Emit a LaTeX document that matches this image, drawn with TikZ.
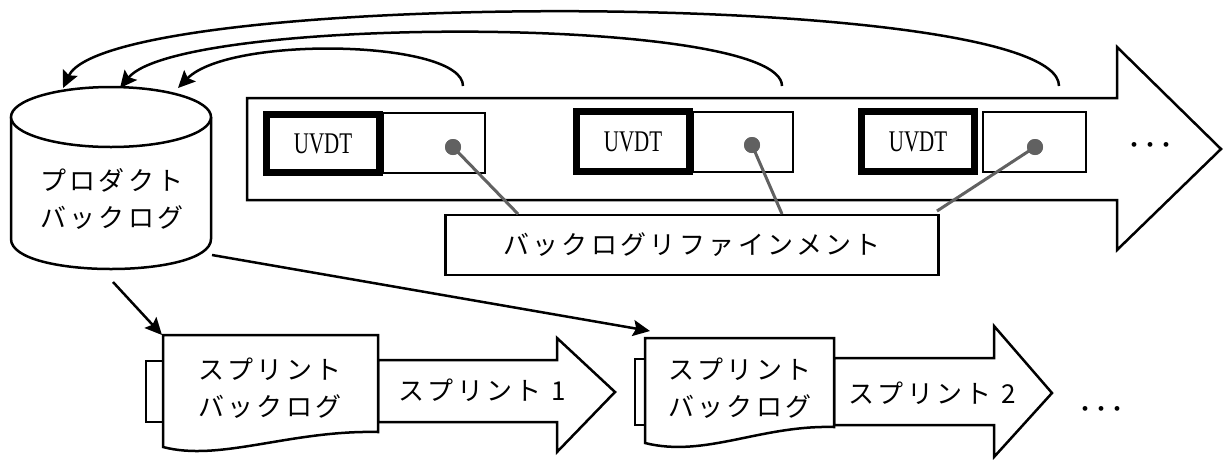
\documentclass[tikz,border=0pt]{standalone}
\usepackage{fontspec}
\usepackage{graphicx}
\usetikzlibrary{arrows.meta}
\newfontfamily\jp[LetterSpace=13]{Noto Sans CJK JP}
\newfontfamily\dotfont[LetterSpace=45]{Liberation Serif}
\newfontfamily\uvfont{Liberation Serif}
\newcommand{\uvdt}{\scalebox{0.7}[1]{UVDT}}
\tikzset{
  outline/.style={draw=black, line width=2.5pt, fill=white, line join=miter},
  thickbox/.style={draw=black, line width=7pt, fill=white, inner sep=0pt,
    font=\uvfont\fontsize{30}{32}\selectfont},
  plainbox/.style={draw=black, line width=2.5pt, fill=white, inner sep=0pt},
  feed/.style={-{Stealth[length=17pt,width=16pt,inset=3pt]}, line width=2.5pt},
  link/.style={draw=black!62, line width=3pt},
  jptext/.style={font=\jp\fontsize{26}{37}\selectfont, align=center, inner sep=0pt},
  dotmark/.style={circle, fill=black!62, minimum size=16pt, inner sep=0pt},
  moretext/.style={font=\dotfont\fontsize{20}{20}\selectfont, inner sep=0pt}
}
\begin{document}
\begin{tikzpicture}[x=1pt,y=-1pt]
\useasboundingbox (0,0) rectangle (1228,459);
\fill[white] (0,0) rectangle (1228,459);

% big iteration arrow
\draw[outline] (247,98) -- (1117,98) -- (1117,47) -- (1221,149) -- (1117,250)
  -- (1117,200) -- (247,200) -- cycle;

% UVDT items
\node[plainbox, minimum width=102pt, minimum height=60pt] (p1) at (434,143) {};
\node[thickbox, minimum width=113pt, minimum height=58pt] (u1) at (323,143.5) {\uvdt};
\node[plainbox, minimum width=100pt, minimum height=60pt] (p2) at (743,142) {};
\node[thickbox, minimum width=113pt, minimum height=60pt] (u2) at (633,141.5) {\uvdt};
\node[plainbox, minimum width=103pt, minimum height=60pt] (p3) at (1034.5,142) {};
\node[thickbox, minimum width=113pt, minimum height=60pt] (u3) at (918,141.5) {\uvdt};
\node[moretext] (more1) at (1150,147) {•••};

% refinement
\node[plainbox, minimum width=493pt, minimum height=60pt, jptext] (ref) at (692,245) {バックログリファインメント};
\coordinate (r1) at (518,214);
\coordinate (r2) at (782,214);
\coordinate (r3) at (937,211);
\node[dotmark] (d1) at (453,147) {};
\node[dotmark] (d2) at (752,145) {};
\node[dotmark] (d3) at (1035,147) {};
\draw[link] (d1.center) -- (r1);
\draw[link] (d2.center) -- (r2);
\draw[link] (d3.center) -- (r3);
\node[dotmark] at (453,147) {};
\node[dotmark] at (752,145) {};
\node[dotmark] at (1035,147) {};

% product backlog cylinder
\draw[outline] (11,117) -- (11,239) .. controls (11,279) and (211,279) .. (211,239) -- (211,117);
\draw[outline] (111,117) ellipse [x radius=100, y radius=30];
\node[jptext] (pb) at (112,198.5) {プロダクト\\バックログ};
\coordinate (pb1) at (63,88);
\coordinate (pb2) at (120,88);
\coordinate (pb3) at (178,88);
\coordinate (pbs) at (113,282);
\coordinate (pbe) at (212,255);

% feedback arcs
\coordinate (a1) at (463,86);
\coordinate (a2) at (782,86);
\coordinate (a3) at (1059,86);
\draw[feed] (a1) .. controls (463,40) and (230,35) .. (pb3);
\draw[feed] (a2) .. controls (782,15) and (180,15) .. (pb2);
\draw[feed] (a3) .. controls (1059,-12) and (110,-12) .. (pb1);

% sprint 1
\draw[outline] (378,360) -- (557,360) -- (557,338) -- (615,392) -- (557,452)
  -- (557,422) -- (378,422) -- cycle;
\node[jptext] (s1) at (482,390) {スプリント 1};
\draw[outline] (146,361) rectangle (163,422);
\draw[outline] (163,335) -- (378,335) -- (378,432) .. controls (290,430) and (220,462) .. (163,447) -- cycle;
\node[jptext] (sb1) at (270,388.5) {スプリント\\バックログ};
\coordinate (sb1c) at (162,335);

% sprint 2
\draw[outline] (834,358) -- (994,358) -- (994,326) -- (1052,393) -- (994,457)
  -- (994,425) -- (834,425) -- cycle;
\node[jptext] (s2) at (932,393) {スプリント 2};
\draw[outline] (635,359) rectangle (645,425);
\draw[outline] (645,338) -- (834,338) -- (834,427) .. controls (760,425) and (705,458) .. (645,443) -- cycle;
\node[jptext] (sb2) at (740,388.5) {スプリント\\バックログ};
\coordinate (sb2c) at (650,331);
\node[moretext] (more2) at (1101,411) {•••};

% planning arrows
\draw[feed] (pbs) -- (sb1c);
\draw[feed] (pbe) -- (sb2c);
\end{tikzpicture}
\end{document}
